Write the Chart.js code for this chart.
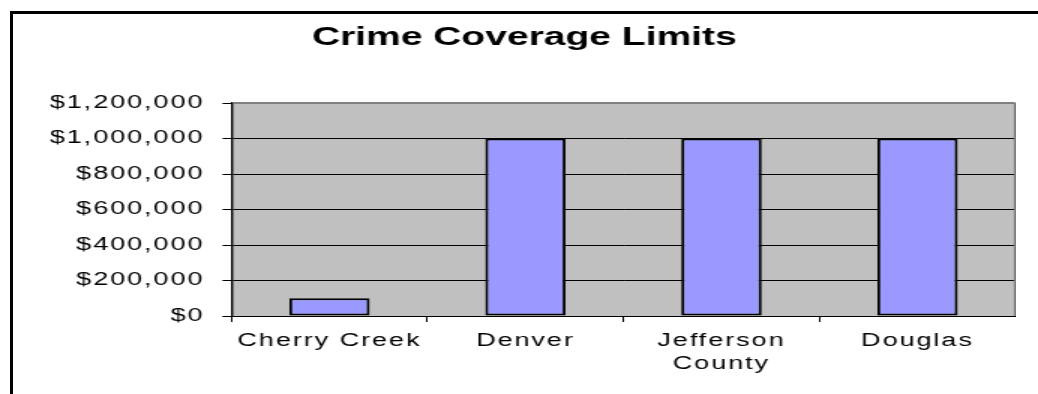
<!DOCTYPE html>
<html>
<head>
<meta charset="utf-8">
<title>Crime Coverage Limits</title>
<script src="https://cdn.jsdelivr.net/npm/chart.js@4.4.1/dist/chart.umd.min.js"></script>
<style>
  html, body { margin: 0; padding: 0; background: #fff; }
  #wrap { position: relative; width: 1038px; height: 394px; overflow: hidden; }
  /* outer chart frame, only left/top edges fall inside the picture */
  #frame { position: absolute; left: 10px; top: 11px; width: 1100px; height: 500px;
           border-left: 3px solid #000; border-top: 3px solid #000; }
  /* the original picture is stretched sideways, so the canvas is too */
  #chart { position: absolute; left: 32.5px; top: 0;
           transform: scaleX(1.5); transform-origin: 0 0; }
</style>
</head>
<body>
<div id="wrap">
  <div id="frame"></div>
  <canvas id="chart" width="655" height="394"></canvas>
</div>
<script>
// data
const categories = ['Cherry Creek', 'Denver', ['Jefferson', 'County'], 'Douglas'];
const limits = [100000, 1000000, 1000000, 1000000];
const yMax = 1200000;
const yStep = 200000;

const FONT = "'Liberation Sans', Arial, sans-serif";
const TICK_SPACING = '1.3px';

const fmtMoney = (v) => '$' + Number(v).toLocaleString('en-US');

// gray plot area, gray top/right edge, a bit of letter spacing on tick labels
const plotArea = {
  id: 'plotArea',
  beforeDraw(chart) {
    const { ctx, chartArea: a } = chart;
    ctx.save();
    ctx.fillStyle = '#C0C0C0';
    ctx.fillRect(a.left, a.top, a.right - a.left, a.bottom - a.top);
    ctx.restore();
    ctx.letterSpacing = '0px';
  },
  beforeDatasetsDraw(chart) {
    const { ctx, chartArea: a } = chart;
    ctx.save();
    ctx.strokeStyle = '#808080';
    ctx.lineWidth = 2;
    ctx.beginPath();
    ctx.moveTo(a.left + 1, a.top);
    ctx.lineTo(a.right - 0.4, a.top);
    ctx.stroke();
    ctx.lineWidth = 1.4;
    ctx.beginPath();
    ctx.moveTo(a.right - 0.4, a.top);
    ctx.lineTo(a.right - 0.4, a.bottom);
    ctx.stroke();
    ctx.restore();
  },
  afterDatasetsDraw(chart) {
    chart.ctx.letterSpacing = TICK_SPACING;
  },
  afterDraw(chart) {
    chart.ctx.letterSpacing = '0px';
  }
};

new Chart(document.getElementById('chart'), {
  type: 'bar',
  data: {
    labels: categories,
    datasets: [{
      data: limits,
      backgroundColor: '#9999FF',
      borderColor: '#000000',
      borderWidth: { top: 2, bottom: 2, left: 2, right: 2 },
      borderSkipped: false,
      categoryPercentage: 1,
      barPercentage: 0.41
    }]
  },
  options: {
    responsive: false,
    animation: false,
    devicePixelRatio: 1,
    layout: { padding: 0 },
    plugins: {
      legend: { display: false },
      tooltip: { enabled: false },
      title: {
        display: true,
        text: 'Crime Coverage Limits',
        color: '#000',
        font: { family: FONT, size: 26, weight: 'bold', lineHeight: 1.2 },
        padding: { top: 22, bottom: 49.8 }
      }
    },
    scales: {
      x: {
        grid: { display: true, drawOnChartArea: false, drawTicks: true, tickLength: 6,
                color: '#000', lineWidth: 1, offset: true },
        border: { display: true, color: '#000', width: 1 },
        ticks: { color: '#000', font: { family: FONT, size: 18, lineHeight: 1.25 },
                 padding: 8, maxRotation: 0, autoSkip: false, z: 1 },
        afterFit(scale) { scale.height = 78; }
      },
      y: {
        min: 0,
        max: yMax,
        grid: { color: '#000', lineWidth: 1, drawTicks: true, tickLength: 6 },
        border: { display: true, color: '#000', width: 1.4 },
        ticks: { stepSize: yStep, color: '#000', font: { family: FONT, size: 18 },
                 padding: 12, callback: fmtMoney, z: 1 },
        afterFit(scale) { scale.width = 132.3; }
      }
    }
  },
  plugins: [plotArea]
});
</script>
</body>
</html>
